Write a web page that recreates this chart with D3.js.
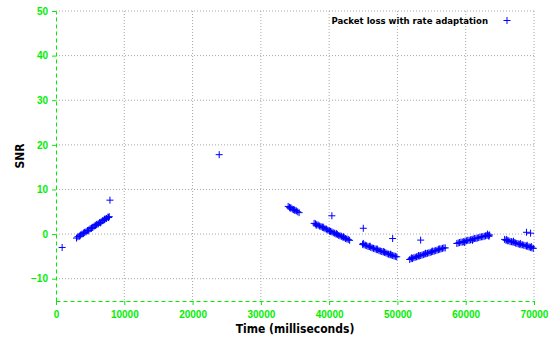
<!DOCTYPE html>
<html>
<head>
<meta charset="utf-8">
<script src="https://cdn.jsdelivr.net/npm/d3@7.9.0/dist/d3.min.js"></script>
<style>
  body { margin: 0; background: #fff; }
  svg { display: block; font-family: "DejaVu Sans Condensed", "DejaVu Sans", sans-serif; font-stretch: condensed; }
  .tick text { fill: #00ee00; font-weight: bold; font-size: 10px; }
</style>
</head>
<body>
<svg id="chart" width="555" height="337"></svg>
<script>
// [time ms, SNR] samples
const isolated = [[900, -3.0], [7900, 7.6], [23900, 17.8], [40400, 4.1], [45000, 1.3],
  [49300, -1.0], [53400, -1.35], [68900, 0.4], [69500, 0.2]];

const segA = [[3000, -0.9], [3200, -0.6], [3400, -0.5], [3500, -0.4], [3600, -0.2], [3800, 0.0],
  [4000, 0.1], [4100, 0.3], [4200, 0.4], [4400, 0.5], [4600, 0.8], [4700, 0.7], [4800, 0.9],
  [5000, 1.2], [5200, 1.3], [5300, 1.5], [5400, 1.5], [5600, 1.8], [5800, 1.9], [5900, 2.1],
  [6000, 2.2], [6200, 2.3], [6400, 2.6], [6500, 2.5], [6600, 2.7], [6800, 3.0], [7000, 3.1],
  [7100, 3.3], [7200, 3.4], [7400, 3.5], [7600, 3.8], [7700, 3.7], [7800, 3.9]];

const segB = [[34000, 6.2], [34200, 6.0], [34300, 5.8], [34400, 5.9], [34600, 5.6], [34800, 5.5],
  [34900, 5.4], [35000, 5.3], [35200, 5.2], [35400, 5.0], [35600, 4.8]];

const segC = [[37800, 2.4], [38000, 2.3], [38100, 2.0], [38200, 2.1], [38400, 2.0], [38600, 1.8],
  [38800, 1.7], [39000, 1.5], [39100, 1.6], [39200, 1.4], [39400, 1.2], [39600, 1.1], [39800, 0.9],
  [40000, 0.8], [40100, 0.6], [40200, 0.6], [40400, 0.5], [40600, 0.3], [40800, 0.2], [41000, 0.0],
  [41100, 0.1], [41200, -0.1], [41400, -0.3], [41600, -0.4], [41800, -0.5], [42000, -0.7],
  [42100, -0.6], [42200, -0.8], [42400, -1.0], [42600, -1.1], [42800, -1.2], [43000, -1.4]];

const segD = [[44900, -2.3], [45000, -2.1], [45100, -2.4], [45300, -2.5], [45500, -2.6], [45700, -2.8],
  [45900, -2.8], [46000, -2.7], [46100, -3.0], [46300, -3.1], [46500, -3.2], [46700, -3.3],
  [46900, -3.5], [47000, -3.3], [47100, -3.5], [47300, -3.7], [47500, -3.8], [47700, -3.9],
  [47900, -4.0], [48000, -3.9], [48100, -4.1], [48300, -4.2], [48500, -4.4], [48700, -4.5],
  [48900, -4.6], [49000, -4.5], [49100, -4.7], [49300, -4.8], [49500, -4.9], [49700, -5.0], [49900, -5.1]];

const segE = [[51800, -5.7], [52000, -5.5], [52100, -5.3], [52200, -5.5], [52400, -5.3], [52600, -5.2],
  [52800, -5.1], [53000, -5.0], [53100, -4.8], [53200, -4.9], [53400, -4.8], [53600, -4.7],
  [53800, -4.6], [54000, -4.5], [54100, -4.3], [54200, -4.4], [54400, -4.3], [54600, -4.2],
  [54800, -4.1], [55000, -4.0], [55100, -3.8], [55200, -3.9], [55400, -3.8], [55600, -3.7],
  [55800, -3.6], [56000, -3.5], [56100, -3.3], [56200, -3.4], [56400, -3.3], [56600, -3.2],
  [56800, -3.1], [57000, -3.1]];

const segF = [[58700, -2.1], [58900, -2.0], [59100, -1.9], [59300, -1.8], [59500, -1.8], [59700, -1.7],
  [59800, -1.9], [59900, -1.6], [60100, -1.5], [60300, -1.4], [60500, -1.4], [60700, -1.3],
  [60900, -1.2], [61000, -1.4], [61100, -1.1], [61300, -1.0], [61500, -1.0], [61700, -0.9],
  [61900, -0.8], [62100, -0.7], [62300, -0.6], [62500, -0.6], [62700, -0.5], [62900, -0.4],
  [63100, -0.3], [63200, 0.0], [63300, -0.3], [63400, -0.5], [63500, -0.2]];

const segG = [[65700, -1.2], [65900, -1.4], [66000, -1.2], [66100, -1.5], [66300, -1.5], [66500, -1.7],
  [66700, -1.7], [66900, -1.8], [67000, -1.6], [67100, -1.9], [67300, -2.0], [67500, -2.1],
  [67700, -2.2], [67900, -2.3], [68000, -2.1], [68100, -2.4], [68300, -2.4], [68500, -2.5],
  [68700, -2.6], [68900, -2.7], [69000, -2.5], [69100, -2.8], [69300, -2.9], [69500, -3.0],
  [69600, -2.8], [69700, -3.1], [69900, -3.2]];

const xTicks = [0, 10000, 20000, 30000, 40000, 50000, 60000, 70000];
const yTicks = [-10, 0, 10, 20, 30, 40, 50];
const legendLabel = 'Packet loss with rate adaptation';

const margin = { top: 11, right: 21, bottom: 36, left: 56 };
const width = 555 - margin.left - margin.right;
const height = 337 - margin.top - margin.bottom;
const green = '#00ee00';
const blue = '#0000ff';

const svg = d3.select('#chart');
const g = svg.append('g').attr('transform', `translate(${margin.left},${margin.top})`);

const x = d3.scaleLinear().domain([0, 70000]).range([0, width]);
const y = d3.scaleLinear().domain([-15, 50]).range([height, 0]);

// grid
g.append('g').selectAll('line').data(yTicks).join('line')
  .attr('x1', 0).attr('x2', width)
  .attr('y1', d => y(d)).attr('y2', d => y(d))
  .attr('stroke', '#a8a8a8').attr('stroke-dasharray', '1,2');
g.append('g').selectAll('line').data(xTicks.slice(1)).join('line')
  .attr('x1', d => x(d)).attr('x2', d => x(d))
  .attr('y1', 0).attr('y2', height)
  .attr('stroke', '#a8a8a8').attr('stroke-dasharray', '1,2');

// axes
const xAxis = g.append('g').attr('transform', `translate(0,${height})`)
  .call(d3.axisBottom(x).tickValues(xTicks).tickFormat(d3.format('d')).tickSize(4).tickSizeOuter(0).tickPadding(6));
const yAxis = g.append('g')
  .call(d3.axisLeft(y).tickValues(yTicks).tickSize(4).tickSizeOuter(0).tickPadding(4));
[xAxis, yAxis].forEach(a => {
  a.select('.domain').attr('stroke', green).attr('stroke-dasharray', '4,3');
  a.selectAll('.tick line').attr('stroke', green);
});

// markers
const plus = d => `M${x(d[0]) - 3.5},${y(d[1])}h7M${x(d[0])},${y(d[1]) - 3.5}v7`;
const allPoints = [].concat(isolated, segA, segB, segC, segD, segE, segF, segG);
g.append('g').selectAll('path').data(allPoints).join('path')
  .attr('d', plus)
  .attr('fill', 'none').attr('stroke', blue).attr('stroke-width', 1);

// legend
svg.append('text').attr('x', 488).attr('y', 24)
  .attr('text-anchor', 'end').attr('font-size', 9.5).attr('font-weight', 'bold')
  .text(legendLabel);
svg.append('path').attr('d', 'M503.5,20.5h7M507,17v7').attr('stroke', blue).attr('fill', 'none');

// axis titles
svg.append('text').attr('x', 295).attr('y', 333)
  .attr('text-anchor', 'middle').attr('font-size', 12).attr('font-weight', 'bold')
  .text('Time (milliseconds)');
svg.append('text').attr('transform', `translate(24,${margin.top + height / 2}) rotate(-90)`)
  .attr('text-anchor', 'middle').attr('font-size', 12).attr('font-weight', 'bold')
  .text('SNR');
</script>
</body>
</html>
